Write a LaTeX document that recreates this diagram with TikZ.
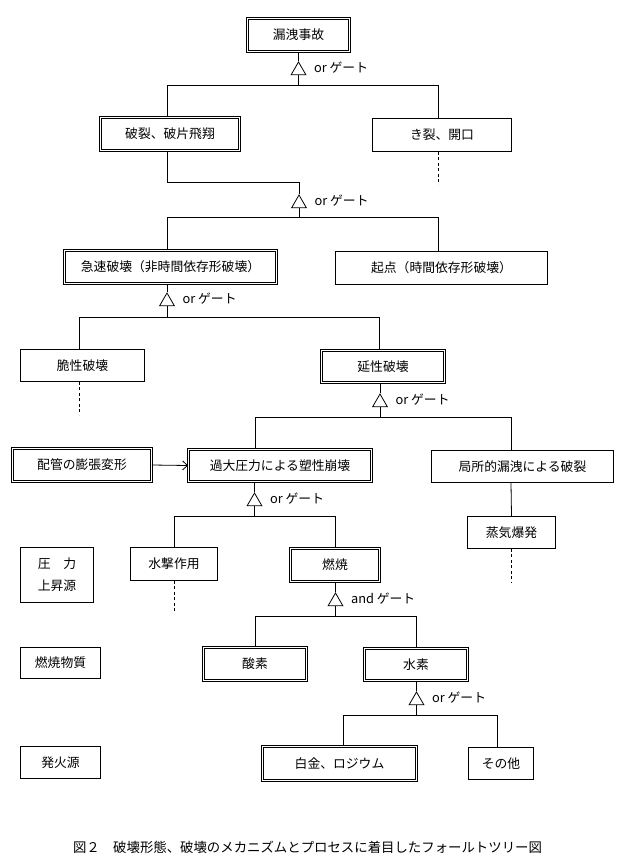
\documentclass[tikz,border=0pt]{standalone}
\usepackage{fontspec}
\setmainfont{Noto Sans CJK JP}
\usetikzlibrary{shapes.geometric,arrows.meta}
\begin{document}
\begin{tikzpicture}[x=1pt,y=-1pt,
  every node/.style={font=\fontsize{12.8}{15}\selectfont},
  sbox/.style 2 args={draw, line width=0.8pt, inner sep=0pt, minimum width=#1pt, minimum height=#2pt},
  dbox/.style 2 args={draw, double, line width=0.7pt, double distance=1.4pt, inner sep=0pt, minimum width=#1pt, minimum height=#2pt},
  gate/.style={draw, regular polygon, regular polygon sides=3, minimum size=17pt, inner sep=0pt, line width=0.8pt},
  glabel/.style={anchor=west, inner sep=0pt},
  conn/.style={line width=0.8pt},
  dconn/.style={line width=0.8pt, dash pattern=on 3pt off 2.5pt}
]
\fill[white] (0,0) rectangle (628,865);
\useasboundingbox (0,0) rectangle (628,865);

% boxes
\node[dbox={102}{33}] (top) at (298.5,35) {漏洩事故};
\node[dbox={139}{33}] (hr) at (170,134) {破裂、破片飛翔};
\node[sbox={139}{33}] (kr) at (442,135) {き裂、開口};
\node[dbox={212}{33}] (kyu) at (170.5,267) {急速破壊（非時間依存形破壊）};
\node[sbox={212}{33}] (kit) at (441.5,268) {起点（時間依存形破壊）};
\node[sbox={124}{32}] (zei) at (82.5,365.5) {脆性破壊};
\node[dbox={123}{32}] (en) at (383,366.5) {延性破壊};
\node[dbox={139}{33}] (hai) at (82,465) {配管の膨張変形};
\node[dbox={183}{32}] (ka) at (280,465.5) {過大圧力による塑性崩壊};
\node[sbox={182}{32}] (kyo) at (522.5,466.5) {局所的漏洩による破裂};
\node[sbox={88}{32}] (jo) at (511.5,532.5) {蒸気爆発};
\node[sbox={73}{55}, align=center, font=\fontsize{12.8}{22}\selectfont] (ats) at (57,575) {圧　力\\上昇源};
\node[sbox={87}{33}] (sui) at (174,564) {水撃作用};
\node[dbox={89}{33}] (nen) at (335,565) {燃焼};
\node[sbox={80}{31}] (nbs) at (60.5,663) {燃焼物質};
\node[dbox={103}{33}] (san) at (255,664) {酸素};
\node[dbox={103}{32}] (h2) at (416,664.5) {水素};
\node[sbox={80}{32}] (hak) at (60.5,762.5) {発火源};
\node[dbox={154}{34}] (pt) at (339.5,763.5) {白金、ロジウム};
\node[sbox={65}{32}] (oth) at (501,763.5) {その他};

% gates
\node[gate] (g1) at (298.5,70.5) {};
\node[gate] (g2) at (299,203.5) {};
\node[gate] (g3) at (167,301.5) {};
\node[gate] (g4) at (380,402.5) {};
\node[gate] (g5) at (254.5,501.5) {};
\node[gate] (g6) at (335.5,601.5) {};
\node[gate] (g7) at (416.5,700.5) {};

\node[glabel] (l1) at ([xshift=10pt,yshift=3pt]g1.east) {or ゲート};
\node[glabel] (l2) at ([xshift=10pt,yshift=3pt]g2.east) {or ゲート};
\node[glabel] (l3) at ([xshift=10pt,yshift=3pt]g3.east) {or ゲート};
\node[glabel] (l4) at ([xshift=10pt,yshift=3pt]g4.east) {or ゲート};
\node[glabel] (l5) at ([xshift=10pt,yshift=3pt]g5.east) {or ゲート};
\node[glabel] (l6) at ([xshift=10pt,yshift=3pt]g6.east) {and ゲート};
\node[glabel] (l7) at ([xshift=10pt,yshift=3pt]g7.east) {or ゲート};

% connectors
\draw[conn] (top.south -| g1.north) -- (g1.north);
\draw[conn] (g1.south) -- ++(0,10.5) -| ([xshift=-3pt]hr.north);
\draw[conn] (g1.south) -- ++(0,10.5) -| ([xshift=-4pt]kr.north);
\coordinate (kre) at ([xshift=-4pt,yshift=-33pt]kr.south);
\draw[dconn] ([xshift=-4pt]kr.south) -- (kre);

\draw[conn] ([xshift=-3pt]hr.south) -- ++(0,32) -| (g2.north);
\draw[conn] (g2.south) -- ++(0,9.5) -| ([xshift=-3.5pt]kyu.north);
\draw[conn] (g2.south) -- ++(0,9.5) -| ([xshift=-3.5pt]kit.north);

\draw[conn] (kyu.south -| g3.north) -- (g3.north);
\draw[conn] (g3.south) -- ++(0,11.5) -| ([xshift=-3.5pt]zei.north);
\draw[conn] (g3.south) -- ++(0,11.5) -| ([xshift=-4pt]en.north);
\coordinate (zee) at ([xshift=-3.5pt,yshift=-33pt]zei.south);
\draw[dconn] ([xshift=-3.5pt]zei.south) -- (zee);

\draw[conn] (en.south -| g4.north) -- (g4.north);
\draw[conn] (g4.south) -- ++(0,10.5) -| ([xshift=-25pt]ka.north);
\draw[conn] (g4.south) -- ++(0,10.5) -| ([xshift=-11.5pt]kyo.north);
\draw[conn,-{Straight Barb[length=5pt,width=9pt]}] (hai.east) -- (ka.west);

\draw[conn] ([xshift=-11.5pt]kyo.south) -- (jo.north);
\coordinate (joe) at ([yshift=-34pt]jo.south);
\draw[dconn] (jo.south) -- (joe);

\draw[conn] (ka.south -| g5.north) -- (g5.north);
\draw[conn] (g5.south) -- ++(0,10.5) -| (sui.north);
\draw[conn] (g5.south) -- ++(0,10.5) -| (nen.north);
\coordinate (suie) at ([yshift=-32pt]sui.south);
\draw[dconn] (sui.south) -- (suie);

\draw[conn] (nen.south -| g6.north) -- (g6.north);
\draw[conn] (g6.south) -- ++(0,10.5) -| (san.north);
\draw[conn] (g6.south) -- ++(0,10.5) -| (h2.north);

\draw[conn] (h2.south -| g7.north) -- (g7.north);
\draw[conn] (g7.south) -- ++(0,10.5) -| ([xshift=3.5pt]pt.north);
\draw[conn] (g7.south) -- ++(0,10.5) -| ([xshift=-4pt]oth.north);

% caption
\node[font=\fontsize{13.4}{16}\selectfont] (cap) at (307.5,847) {図２　破壊形態、破壊のメカニズムとプロセスに着目したフォールトツリー図};
\end{tikzpicture}
\end{document}
